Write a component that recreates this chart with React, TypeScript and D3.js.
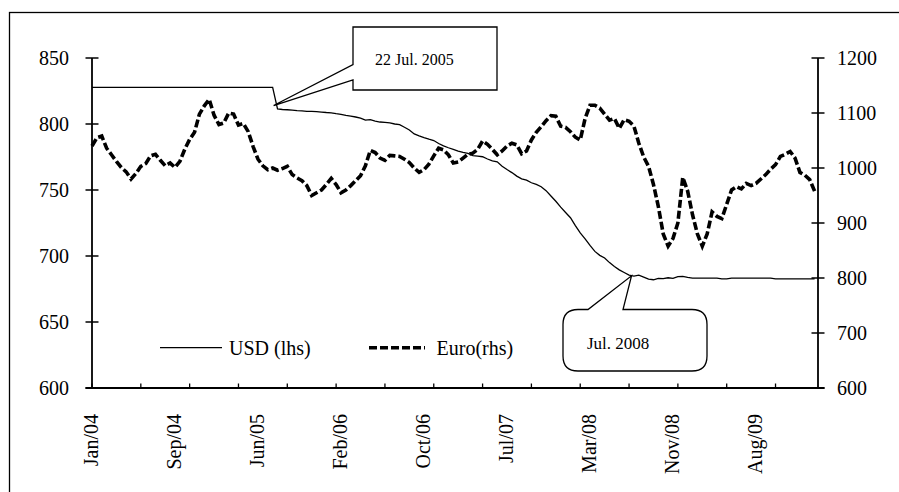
import React from "react";
import * as d3 from "d3";

// ---- data (sampled every 10 trading days from Jan 2004) ----
const TOTAL_UNITS = 1487; // trading days spanned by the category axis
const SAMPLE_STEP = 10;
const TICK_EVERY = 100;
const LABEL_EVERY = 170;

const xLabels = ["Jan/04", "Sep/04", "Jun/05", "Feb/06", "Oct/06", "Jul/07", "Mar/08", "Nov/08", "Aug/09"];
const leftTicks = [600, 650, 700, 750, 800, 850];
const rightTicks = [600, 700, 800, 900, 1000, 1100, 1200];

const usdValues = [
  827.7, 827.7, 827.7, 827.7, 827.7, 827.7, 827.7, 827.7, 827.7, 827.7,
  827.7, 827.7, 827.7, 827.7, 827.7, 827.7, 827.7, 827.7, 827.7, 827.7,
  827.7, 827.7, 827.7, 827.7, 827.7, 827.7, 827.7, 827.7, 827.7, 827.7,
  827.7, 827.7, 827.7, 827.7, 827.7, 827.7, 827.7, 827.7,
  811.5, 811, 810.8, 810.5, 810.2, 810, 809.6, 809.5, 809.3, 809,
  808.7, 808.5, 807.8, 807.3, 806.5, 806, 805.3, 804.5, 803, 803.3,
  802.2, 801.5, 801.2, 800.8, 800, 799.5, 797.5, 795.5, 792.5, 791,
  789.7, 788.5, 787.5, 785.2, 783.5, 782, 780.8, 779.5, 778.5, 777.8,
  776, 775.6, 775.2, 773.5, 772, 771.3, 768, 765.5, 763.2, 760.5,
  758.5, 757.5, 755.5, 754.2, 752.5, 749.5, 745.5, 741.5, 737, 733,
  729, 723, 717.5, 713, 708, 703.5, 700.5, 698.5, 695, 692,
  689.5, 687.5, 685.5, 684.8, 685.5, 684, 682.5, 682, 683, 682.8,
  683.5, 683, 684.3, 684.5, 683.8, 683.3, 683.3, 683.3, 683.3, 683.3,
  683.3, 682.6, 682.6, 683.2, 683.2, 683.2, 683.2, 683.2, 683.2, 683.2,
  683.2, 683.2, 682.6, 682.6, 682.6, 682.6, 682.6, 682.6, 682.6, 682.6,
  682.6,
];

const euroValues = [
  1040, 1055, 1058, 1036, 1024, 1012, 1001, 993, 980, 990,
  1003, 1008, 1022, 1025, 1014, 1004, 1009, 1001, 1012, 1034,
  1052, 1065, 1098, 1113, 1125, 1096, 1079, 1082, 1100, 1098,
  1078, 1081, 1066, 1039, 1016, 1004, 997, 1000, 996, 999,
  1003, 988, 982, 977, 968, 950, 955, 960, 970, 981,
  970, 955, 960, 968, 977, 986, 1004, 1032, 1028, 1018,
  1014, 1023, 1022, 1021, 1016, 1010, 1000, 992, 997, 1007,
  1022, 1036, 1033, 1024, 1009, 1011, 1018, 1025, 1027, 1034,
  1049, 1043, 1034, 1024, 1031, 1040, 1045, 1042, 1026, 1031,
  1051, 1065, 1075, 1086, 1095, 1094, 1076, 1074, 1066, 1056,
  1051, 1090, 1114, 1114, 1109, 1098, 1087, 1090, 1072, 1088,
  1085, 1076, 1045, 1020, 1003, 970, 930, 880, 858, 872,
  900, 983, 958, 915, 880, 858, 880, 920, 912, 908,
  934, 960, 966, 962, 972, 968, 972, 980, 988, 998,
  1006, 1021, 1025, 1030, 1018, 992, 987, 979, 958,
];

const PEG_END_UNIT = 372;
const PEG_TIP_VALUE = 814;
const JUL08_UNIT = 1105;
const JUL08_VALUE = 685;

const FONT = "'Liberation Serif', 'Times New Roman', serif";

export default function App() {
  const x = d3.scaleLinear().domain([0, TOTAL_UNITS]).range([92, 818]);
  const yL = d3.scaleLinear().domain([600, 850]).range([388, 58]);
  const yR = d3.scaleLinear().domain([600, 1200]).range([388, 58]);

  const usdLine = d3
    .line<number>()
    .x((_, i) => x(i * SAMPLE_STEP))
    .y((v) => yL(v));
  const euroLine = d3
    .line<number>()
    .x((_, i) => x(i * SAMPLE_STEP))
    .y((v) => yR(v));

  const xTicks = d3.range(0, TOTAL_UNITS, TICK_EVERY);
  const [x0, x1] = x.range();
  const yBottom = yL(600);
  const yTop = yL(850);

  // callout 1 (22 Jul. 2005)
  const t1x = x(PEG_END_UNIT);
  const t1y = yL(PEG_TIP_VALUE);
  const b1 = { l: 353, r: 497, t: 27, b: 90 };
  const c1 = `M${b1.l},${b1.t} H${b1.r} V${b1.b} H${b1.l} V80 L${t1x},${t1y} L${b1.l},64.5 Z`;

  // callout 2 (Jul. 2008)
  const t2x = x(JUL08_UNIT);
  const t2y = yL(JUL08_VALUE);
  const b2 = { l: 563, r: 707, t: 309.5, b: 371, r0: 15 };
  const c2 =
    `M${b2.l + b2.r0},${b2.t} H588 L${t2x},${t2y} L623,${b2.t} H${b2.r - b2.r0} ` +
    `Q${b2.r},${b2.t} ${b2.r},${b2.t + b2.r0} V${b2.b - b2.r0} Q${b2.r},${b2.b} ${b2.r - b2.r0},${b2.b} ` +
    `H${b2.l + b2.r0} Q${b2.l},${b2.b} ${b2.l},${b2.b - b2.r0} V${b2.t + b2.r0} Q${b2.l},${b2.t} ${b2.l + b2.r0},${b2.t} Z`;

  return (
    <svg
      width={899}
      height={492}
      style={{ position: "absolute", left: 0, top: 0, background: "#fff" }}
      fontFamily={FONT}
    >
      <rect x={0} y={0} width={899} height={492} fill="#fff" />
      {/* outer frame (extends past the right and bottom edges) */}
      <rect x={9.5} y={12.5} width={1000} height={600} fill="none" stroke="#000" strokeWidth={1.3} />

      {/* series */}
      <path d={euroLine(euroValues) || ""} fill="none" stroke="#000" strokeWidth={3.6} strokeDasharray="8 3" />
      <path d={usdLine(usdValues) || ""} fill="none" stroke="#000" strokeWidth={1.3} />

      {/* left axis */}
      <line x1={x0} x2={x0} y1={yTop} y2={yBottom} stroke="#000" strokeWidth={1.8} />
      {leftTicks.map((t) => (
        <g key={"l" + t}>
          <line x1={x0 - 6.5} x2={x0 + 6.5} y1={yL(t)} y2={yL(t)} stroke="#000" strokeWidth={1.5} />
          <text x={69} y={yL(t)} dy="0.35em" textAnchor="end" fontSize={20}>
            {t}
          </text>
        </g>
      ))}

      {/* right axis */}
      <line x1={x1} x2={x1} y1={yTop} y2={yBottom} stroke="#000" strokeWidth={1.8} />
      {rightTicks.map((t) => (
        <g key={"r" + t}>
          <line x1={x1 - 6.5} x2={x1 + 6.5} y1={yR(t)} y2={yR(t)} stroke="#000" strokeWidth={1.5} />
          <text x={837} y={yR(t)} dy="0.35em" textAnchor="start" fontSize={20}>
            {t}
          </text>
        </g>
      ))}

      {/* bottom axis */}
      <line x1={x0 - 6.5} x2={x1 + 6.5} y1={yBottom} y2={yBottom} stroke="#000" strokeWidth={1.8} />
      {xTicks.map((u) => (
        <line key={"t" + u} x1={x(u)} x2={x(u)} y1={yBottom} y2={yBottom - 4.5} stroke="#000" strokeWidth={1.3} />
      ))}
      {xLabels.map((lab, i) => {
        const lx = x(i * LABEL_EVERY) - 1;
        const ly = 414;
        return (
          <text
            key={lab}
            x={lx}
            y={ly}
            transform={`rotate(-90 ${lx} ${ly})`}
            textAnchor="end"
            dominantBaseline="central"
            fontSize={20}
          >
            {lab}
          </text>
        );
      })}

      {/* legend */}
      <line x1={160} x2={222} y1={347.7} y2={347.7} stroke="#000" strokeWidth={1.3} />
      <text x={229} y={355} fontSize={20}>
        USD (lhs)
      </text>
      <line x1={369} x2={425} y1={347.7} y2={347.7} stroke="#000" strokeWidth={3.6} strokeDasharray="8 3" />
      <text x={436.5} y={355} fontSize={20}>
        Euro(rhs)
      </text>

      {/* callouts */}
      <path d={c1} fill="#fff" stroke="#000" strokeWidth={1.3} strokeLinejoin="miter" />
      <text x={375} y={65} fontSize={16}>
        22 Jul. 2005
      </text>
      <path d={c2} fill="#fff" stroke="#000" strokeWidth={1.3} />
      <text x={587} y={348.5} fontSize={17}>
        Jul. 2008
      </text>
    </svg>
  );
}
